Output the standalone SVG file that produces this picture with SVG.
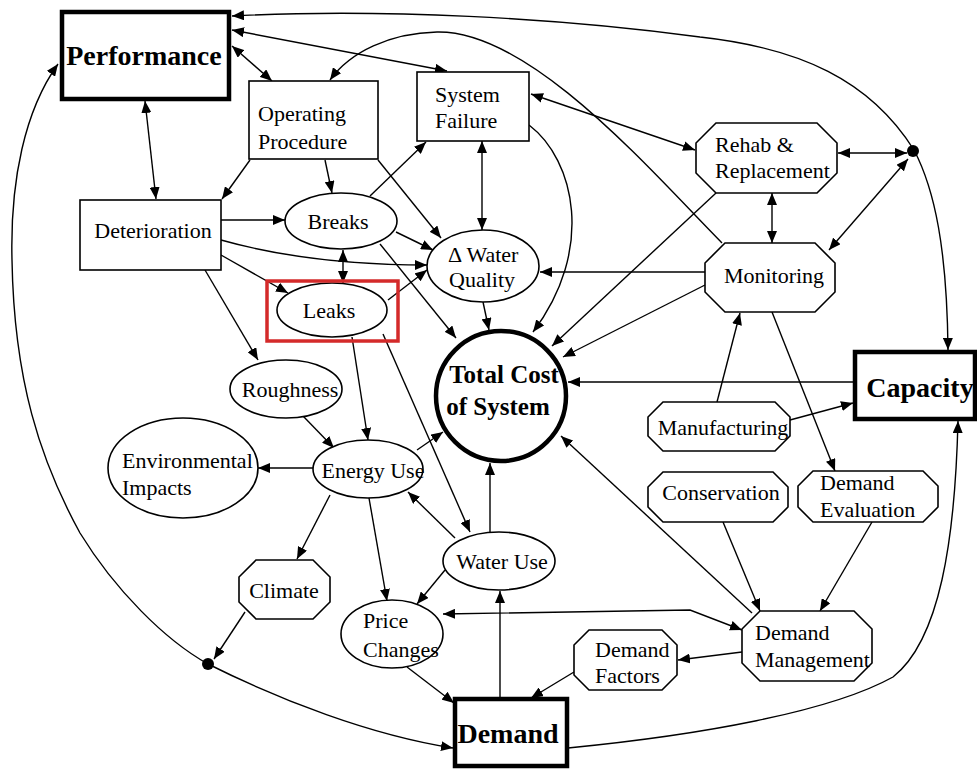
<svg xmlns="http://www.w3.org/2000/svg" width="977" height="770" viewBox="0 0 977 770">
  <defs>
    <marker id="ah" viewBox="0 0 12 10" refX="12" refY="5" markerWidth="12" markerHeight="10" orient="auto-start-reverse" markerUnits="userSpaceOnUse">
      <path d="M0,0 L12,5 L0,10 z" fill="#000"/>
    </marker>
  </defs>
  <style>
    .n { fill: #fff; stroke: #000; stroke-width: 1.6; }
    .k { fill: #fff; stroke: #000; stroke-width: 4.5; }
    .t { font-family: "Liberation Serif", "Times New Roman", serif; font-size: 22px; fill: #000; }
    .m { text-anchor: middle; }
    .b { font-weight: bold; font-size: 28px; }
    .tc { font-weight: bold; font-size: 25px; }
    .e { fill: none; stroke: #000; stroke-width: 1.4; marker-end: url(#ah); }
    .d { marker-start: url(#ah); }
    .dot { fill: #000; }
  </style>
  <rect width="977" height="770" fill="#fff"/>

  <!-- connectors -->
  <g id="connectors">
    <path class="e d" d="M232,16 C380,8 560,18 700,37 C800,48 870,80 914,150 C935,190 947,250 948,350"/>
    <path class="e d" d="M232,30 L447,71"/>
    <path class="e d" d="M232,46 L272,81"/>
    <path class="e d" d="M145,101 L156,199"/>
    <path class="e d" d="M58,64 C25,110 10,180 12,260 C14,380 40,460 80,533 C115,590 165,640 208,664 C280,700 370,735 453,748"/>
    <path class="e" d="M250,160 L222,199"/>
    <path class="e" d="M325,160 L332,193"/>
    <path class="e" d="M378,160 L441,238"/>
    <path class="e" d="M370,196 L426,142"/>
    <path class="e" d="M396,232 L433,250"/>
    <path class="e" d="M380,244 L456,338"/>
    <path class="e d" d="M343,250 L343,283"/>
    <path class="e" d="M221,220 L285,220"/>
    <path class="e" d="M221,240 Q310,265 427,265"/>
    <path class="e" d="M221,255 L288,293"/>
    <path class="e" d="M205,270 L258,360"/>
    <path class="e" d="M388,300 L427,270"/>
    <path class="e" d="M352,337 L368,440"/>
    <path class="e" d="M383,334 L470,532"/>
    <path class="e d" d="M482,141 L482,230"/>
    <path class="e" d="M529,125 C575,160 595,250 533,332"/>
    <path class="e d" d="M531,94 L695,150"/>
    <path class="e" d="M722,243 C650,170 530,30 437,32 C390,33 350,52 330,80"/>
    <path class="e" d="M716,193 L552,346"/>
    <path class="e" d="M705,285 L563,357"/>
    <path class="e" d="M705,272 L540,272"/>
    <path class="e d" d="M772,193 L772,243"/>
    <path class="e d" d="M838,153 L907,153"/>
    <path class="e d" d="M829,250 L908,159"/>
    <path class="e" d="M717,402 L740,313"/>
    <path class="e" d="M790,420 L853,403"/>
    <path class="e" d="M772,312 L835,471"/>
    <path class="e" d="M853,382 L568,382"/>
    <path class="e" d="M568,748 C700,735 830,712 893,677 C940,640 955,540 958,421"/>
    <path class="e" d="M723,522 L760,611"/>
    <path class="e" d="M872,522 L820,611"/>
    <path class="e" d="M752,613 L561,436"/>
    <path class="e d" d="M443,614 L690,610 L742,630"/>
    <path class="e" d="M742,652 L678,660"/>
    <path class="e" d="M574,672 L531,698"/>
    <path class="e" d="M500,698 L500,591"/>
    <path class="e" d="M490,532 L490,463"/>
    <path class="e" d="M445,570 L417,604"/>
    <path class="e" d="M455,538 L408,492"/>
    <path class="e" d="M369,498 L387,601"/>
    <path class="e" d="M330,495 L297,559"/>
    <path class="e" d="M245,612 L214,659"/>
    <path class="e" d="M313,468 L258,468"/>
    <path class="e" d="M303,416 L334,448"/>
    <path class="e" d="M417,450 L443,432"/>
    <path class="e" d="M483,302 L489,330"/>
    <path class="e" d="M407,667 L454,703"/>
    <circle class="dot" cx="913" cy="151" r="6"/>
    <circle class="dot" cx="208" cy="664" r="6"/>
  </g>

  <!-- nodes -->
  <g id="performance">
    <rect class="k" x="62" y="12" width="167" height="87"/>
    <text class="t b m" x="144" y="65">Performance</text>
  </g>
  <g id="operating-procedure">
    <rect class="n" x="249" y="81" width="129" height="78"/>
    <text class="t" x="258" y="121">Operating</text>
    <text class="t" x="258" y="149">Procedure</text>
  </g>
  <g id="system-failure">
    <rect class="n" x="417" y="72" width="112" height="69"/>
    <text class="t" x="435" y="102">System</text>
    <text class="t" x="435" y="128">Failure</text>
  </g>
  <g id="deterioration">
    <rect class="n" x="80" y="200" width="141" height="70"/>
    <text class="t m" x="153" y="238">Deterioration</text>
  </g>
  <g id="breaks">
    <ellipse class="n" cx="341" cy="221" rx="56" ry="28"/>
    <text class="t m" x="338" y="229">Breaks</text>
  </g>
  <g id="leaks">
    <ellipse class="n" cx="332" cy="310" rx="55" ry="27"/>
    <text class="t m" x="329" y="318">Leaks</text>
    <rect x="267" y="281" width="131" height="60" fill="none" stroke="#d42a2a" stroke-width="3.5"/>
  </g>
  <g id="water-quality">
    <ellipse class="n" cx="483" cy="266" rx="56" ry="36"/>
    <text class="t" x="448" y="262">Δ Water</text>
    <text class="t" x="449" y="287">Quality</text>
  </g>
  <g id="total-cost">
    <circle class="k" cx="501" cy="396" r="65"/>
    <text class="t tc m" x="504" y="383">Total Cost</text>
    <text class="t tc m" x="498" y="415">of System</text>
  </g>
  <g id="rehab-replacement">
    <polygon class="n" points="716,123 817,123 837,143 837,173 817,193 716,193 696,173 696,143"/>
    <text class="t" x="715" y="152">Rehab &amp;</text>
    <text class="t" x="715" y="178">Replacement</text>
  </g>
  <g id="monitoring">
    <polygon class="n" points="725,243 815,243 835,263 835,292 815,312 725,312 705,292 705,263"/>
    <text class="t m" x="774" y="283">Monitoring</text>
  </g>
  <g id="capacity">
    <rect class="k" x="855" y="352" width="120" height="67"/>
    <text class="t b m" x="920" y="397">Capacity</text>
  </g>
  <g id="manufacturing">
    <polygon class="n" points="663,402 775,402 790,417 790,436 775,451 663,451 648,436 648,417"/>
    <text class="t m" x="723" y="435">Manufacturing</text>
  </g>
  <g id="conservation">
    <polygon class="n" points="663,472 773,472 788,487 788,507 773,522 663,522 648,507 648,487"/>
    <text class="t m" x="721" y="500">Conservation</text>
  </g>
  <g id="demand-evaluation">
    <polygon class="n" points="813,471 923,471 938,486 938,507 923,522 813,522 798,507 798,486"/>
    <text class="t" x="820" y="490">Demand</text>
    <text class="t" x="820" y="517">Evaluation</text>
  </g>
  <g id="demand-management">
    <polygon class="n" points="760,611 854,611 872,629 872,663 854,681 760,681 742,663 742,629"/>
    <text class="t" x="755" y="640">Demand</text>
    <text class="t" x="755" y="667">Management</text>
  </g>
  <g id="demand-factors">
    <polygon class="n" points="589,630 662,630 677,645 677,675 662,690 589,690 574,675 574,645"/>
    <text class="t" x="595" y="657">Demand</text>
    <text class="t" x="595" y="683">Factors</text>
  </g>
  <g id="demand">
    <rect class="k" x="455" y="699" width="112" height="67"/>
    <text class="t b m" x="508" y="743">Demand</text>
  </g>
  <g id="water-use">
    <ellipse class="n" cx="499" cy="561" rx="56" ry="29"/>
    <text class="t m" x="502" y="569">Water Use</text>
  </g>
  <g id="price-changes">
    <ellipse class="n" cx="392" cy="634" rx="51" ry="34"/>
    <text class="t" x="363" y="628">Price</text>
    <text class="t" x="363" y="657">Changes</text>
  </g>
  <g id="climate">
    <polygon class="n" points="256,560 313,560 330,577 330,602 313,619 256,619 239,602 239,577"/>
    <text class="t m" x="284" y="598">Climate</text>
  </g>
  <g id="roughness">
    <ellipse class="n" cx="286" cy="389" rx="56" ry="29"/>
    <text class="t m" x="290" y="397">Roughness</text>
  </g>
  <g id="environmental-impacts">
    <ellipse class="n" cx="183" cy="468" rx="75" ry="50"/>
    <text class="t" x="122" y="468">Environmental</text>
    <text class="t" x="122" y="495">Impacts</text>
  </g>
  <g id="energy-use">
    <ellipse class="n" cx="368" cy="469" rx="55" ry="29"/>
    <text class="t m" x="373" y="478">Energy Use</text>
  </g>
</svg>
